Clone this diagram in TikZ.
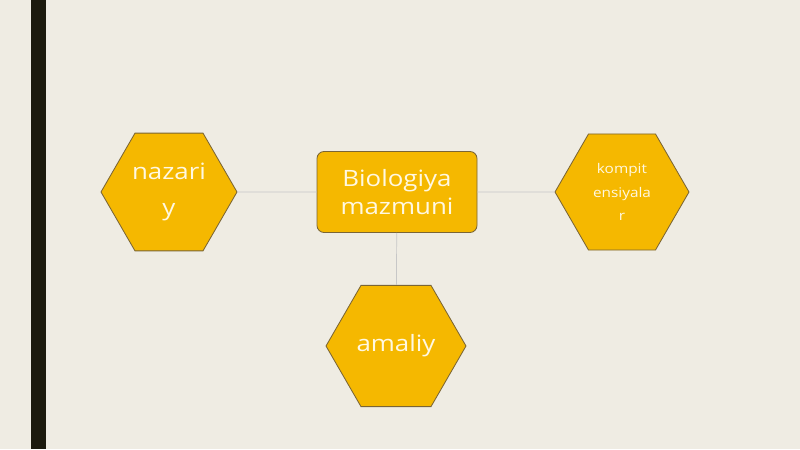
\documentclass[tikz,border=0pt]{standalone}
\usepackage{fontspec}
\setmainfont{Open Sans}[FakeStretch=1.15]
\usetikzlibrary{shapes.geometric}
\definecolor{slide}{HTML}{EFECE3}
\definecolor{gold}{HTML}{F5B800}
\definecolor{rim}{HTML}{7A6535}
\definecolor{bar}{HTML}{1C1A0E}
\definecolor{ink}{HTML}{FFF8E2}

\begin{document}
\begin{tikzpicture}[
  hexa/.style={regular polygon,regular polygon sides=6,fill=gold,draw=rim,
    line width=0.6pt,inner sep=0pt,text=ink,align=center},
  box/.style={rectangle,rounded corners=5pt,fill=gold,draw=rim,line width=0.6pt,
    minimum width=4cm,minimum height=2.025cm,text=ink,align=center,
    font=\fontsize{16}{20}\selectfont},
  link/.style={draw=black!22,line width=0.5pt}]
\fill[slide] (0,0) rectangle (20,11.225);
\useasboundingbox (0,0) rectangle (20,11.225);
\fill[bar] (0.775,0) rectangle (1.15,11.225);
\node[box] (M) at (9.925,6.425) {Biologiya\\mazmuni};
\node[hexa,minimum size=3.4cm,font=\fontsize{16}{25}\selectfont] (N) at (4.225,6.425) {nazari\\y};
\node[hexa,minimum size=3.35cm,font=\fontsize{9.5}{16.5}\selectfont] (K) at (15.55,6.425) {kompit\\ensiyala\\r};
\node[hexa,minimum size=3.5cm,font=\fontsize{16}{20}\selectfont] (A) at (9.9,2.575) {amaliy};
\draw[link] (N) -- (M);
\draw[link] (M) -- (K);
\draw[link] (M) -- (A);
\end{tikzpicture}
\end{document}
